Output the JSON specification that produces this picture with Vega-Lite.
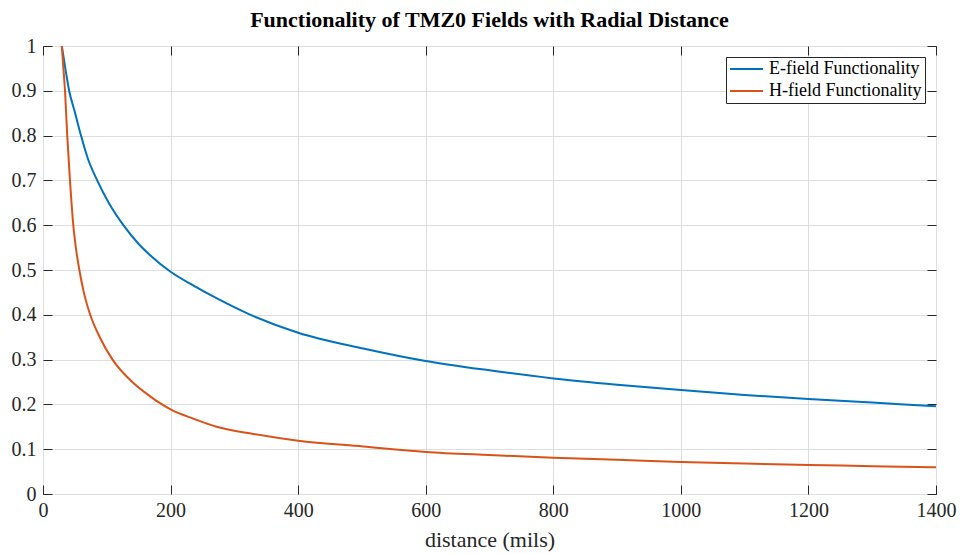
{
  "$schema": "https://vega.github.io/schema/vega-lite/v6.json",
  "width": 893,
  "height": 448,
  "autosize": {"type": "none"},
  "padding": {"left": 43, "top": 46, "right": 26, "bottom": 60},
  "background": "white",
  "title": {
    "text": "Functionality of TMZ0 Fields with Radial Distance",
    "font": "Liberation Serif",
    "fontSize": 22,
    "fontWeight": "bold",
    "color": "#000000",
    "anchor": "middle",
    "baseline": "alphabetic",
    "offset": 20,
    "dy": 33
  },
  "config": {
    "view": {"stroke": "#262626", "strokeWidth": 1},
    "axis": {
      "labelFont": "Liberation Serif",
      "titleFont": "Liberation Serif",
      "labelColor": "#262626",
      "titleColor": "#262626",
      "labelFontSize": 20,
      "titleFontSize": 22,
      "titleFontWeight": "normal",
      "gridColor": "#dedede",
      "gridOpacity": 1,
      "tickColor": "#262626",
      "domain": false,
      "labelFlush": false,
      "labelOverlap": false
    }
  },
  "data": {
    "values": [
      {"distance": 29.5, "value": 1.0, "series": "E-field Functionality"},
      {"distance": 35, "value": 0.95, "series": "E-field Functionality"},
      {"distance": 41, "value": 0.9, "series": "E-field Functionality"},
      {"distance": 50, "value": 0.852, "series": "E-field Functionality"},
      {"distance": 59.6, "value": 0.8, "series": "E-field Functionality"},
      {"distance": 70, "value": 0.75, "series": "E-field Functionality"},
      {"distance": 85, "value": 0.7, "series": "E-field Functionality"},
      {"distance": 103, "value": 0.65, "series": "E-field Functionality"},
      {"distance": 126, "value": 0.6, "series": "E-field Functionality"},
      {"distance": 150, "value": 0.558, "series": "E-field Functionality"},
      {"distance": 168, "value": 0.533, "series": "E-field Functionality"},
      {"distance": 200, "value": 0.496, "series": "E-field Functionality"},
      {"distance": 236, "value": 0.465, "series": "E-field Functionality"},
      {"distance": 272, "value": 0.437, "series": "E-field Functionality"},
      {"distance": 322, "value": 0.402, "series": "E-field Functionality"},
      {"distance": 400, "value": 0.36, "series": "E-field Functionality"},
      {"distance": 502, "value": 0.325, "series": "E-field Functionality"},
      {"distance": 600, "value": 0.297, "series": "E-field Functionality"},
      {"distance": 700, "value": 0.276, "series": "E-field Functionality"},
      {"distance": 800, "value": 0.258, "series": "E-field Functionality"},
      {"distance": 900, "value": 0.244, "series": "E-field Functionality"},
      {"distance": 1000, "value": 0.232, "series": "E-field Functionality"},
      {"distance": 1100, "value": 0.221, "series": "E-field Functionality"},
      {"distance": 1200, "value": 0.212, "series": "E-field Functionality"},
      {"distance": 1300, "value": 0.204, "series": "E-field Functionality"},
      {"distance": 1400, "value": 0.196, "series": "E-field Functionality"},
      {"distance": 29.5, "value": 1.0, "series": "H-field Functionality"},
      {"distance": 32, "value": 0.95, "series": "H-field Functionality"},
      {"distance": 34.5, "value": 0.9, "series": "H-field Functionality"},
      {"distance": 38, "value": 0.8, "series": "H-field Functionality"},
      {"distance": 42.3, "value": 0.7, "series": "H-field Functionality"},
      {"distance": 47.5, "value": 0.6, "series": "H-field Functionality"},
      {"distance": 51.5, "value": 0.55, "series": "H-field Functionality"},
      {"distance": 57, "value": 0.5, "series": "H-field Functionality"},
      {"distance": 64, "value": 0.45, "series": "H-field Functionality"},
      {"distance": 74, "value": 0.4, "series": "H-field Functionality"},
      {"distance": 89, "value": 0.35, "series": "H-field Functionality"},
      {"distance": 109, "value": 0.3, "series": "H-field Functionality"},
      {"distance": 140, "value": 0.25, "series": "H-field Functionality"},
      {"distance": 168, "value": 0.218, "series": "H-field Functionality"},
      {"distance": 181, "value": 0.205, "series": "H-field Functionality"},
      {"distance": 200, "value": 0.189, "series": "H-field Functionality"},
      {"distance": 236, "value": 0.168, "series": "H-field Functionality"},
      {"distance": 272, "value": 0.15, "series": "H-field Functionality"},
      {"distance": 330, "value": 0.134, "series": "H-field Functionality"},
      {"distance": 400, "value": 0.119, "series": "H-field Functionality"},
      {"distance": 502, "value": 0.106, "series": "H-field Functionality"},
      {"distance": 600, "value": 0.094, "series": "H-field Functionality"},
      {"distance": 700, "value": 0.087, "series": "H-field Functionality"},
      {"distance": 800, "value": 0.081, "series": "H-field Functionality"},
      {"distance": 900, "value": 0.0765, "series": "H-field Functionality"},
      {"distance": 1000, "value": 0.0715, "series": "H-field Functionality"},
      {"distance": 1100, "value": 0.068, "series": "H-field Functionality"},
      {"distance": 1200, "value": 0.065, "series": "H-field Functionality"},
      {"distance": 1300, "value": 0.062, "series": "H-field Functionality"},
      {"distance": 1400, "value": 0.0595, "series": "H-field Functionality"}
    ]
  },
  "layer": [
    {
      "mark": {"type": "line", "strokeWidth": 2, "interpolate": "monotone"},
      "encoding": {
        "x": {
          "field": "distance",
          "type": "quantitative",
          "scale": {"domain": [0, 1400], "nice": false, "zero": false},
          "axis": {
            "title": "distance (mils)",
            "values": [0, 200, 400, 600, 800, 1000, 1200, 1400],
            "format": "d",
            "grid": true,
            "offset": -9,
            "tickSize": 9,
            "labelPadding": 6,
            "titlePadding": 9
          }
        },
        "y": {
          "field": "value",
          "type": "quantitative",
          "scale": {"domain": [0, 1], "nice": false},
          "axis": {
            "title": null,
            "values": [0, 0.1, 0.2, 0.3, 0.4, 0.5, 0.6, 0.7, 0.8, 0.9, 1],
            "format": "~g",
            "grid": true,
            "offset": -9,
            "tickSize": 9,
            "labelPadding": 7
          }
        },
        "color": {
          "field": "series",
          "type": "nominal",
          "scale": {
            "domain": ["E-field Functionality", "H-field Functionality"],
            "range": ["#0072BD", "#D95319"]
          },
          "legend": {
            "title": null,
            "orient": "top-right",
            "offset": 11,
            "strokeColor": "#262626",
            "fillColor": "white",
            "padding": 3,
            "symbolType": "M-5.6,0H1",
            "symbolStrokeWidth": 2,
            "symbolSize": 100,
            "symbolOffset": 20,
            "labelFont": "Liberation Serif",
            "labelFontSize": 18,
            "labelColor": "#000000",
            "rowPadding": 4,
            "labelOffset": 2
          }
        }
      }
    },
    {
      "mark": {"type": "line", "opacity": 0},
      "encoding": {
        "x": {
          "field": "distance",
          "type": "quantitative",
          "axis": {
            "orient": "top",
            "title": null,
            "values": [0, 200, 400, 600, 800, 1000, 1200, 1400],
            "labels": false,
            "grid": false,
            "offset": -9,
            "tickSize": 9
          }
        },
        "y": {
          "field": "value",
          "type": "quantitative",
          "axis": {
            "orient": "right",
            "title": null,
            "values": [0, 0.1, 0.2, 0.3, 0.4, 0.5, 0.6, 0.7, 0.8, 0.9, 1],
            "labels": false,
            "grid": false,
            "offset": -9,
            "tickSize": 9
          }
        },
        "detail": {"field": "series", "type": "nominal"}
      }
    }
  ],
  "resolve": {"axis": {"x": "independent", "y": "independent"}}
}
